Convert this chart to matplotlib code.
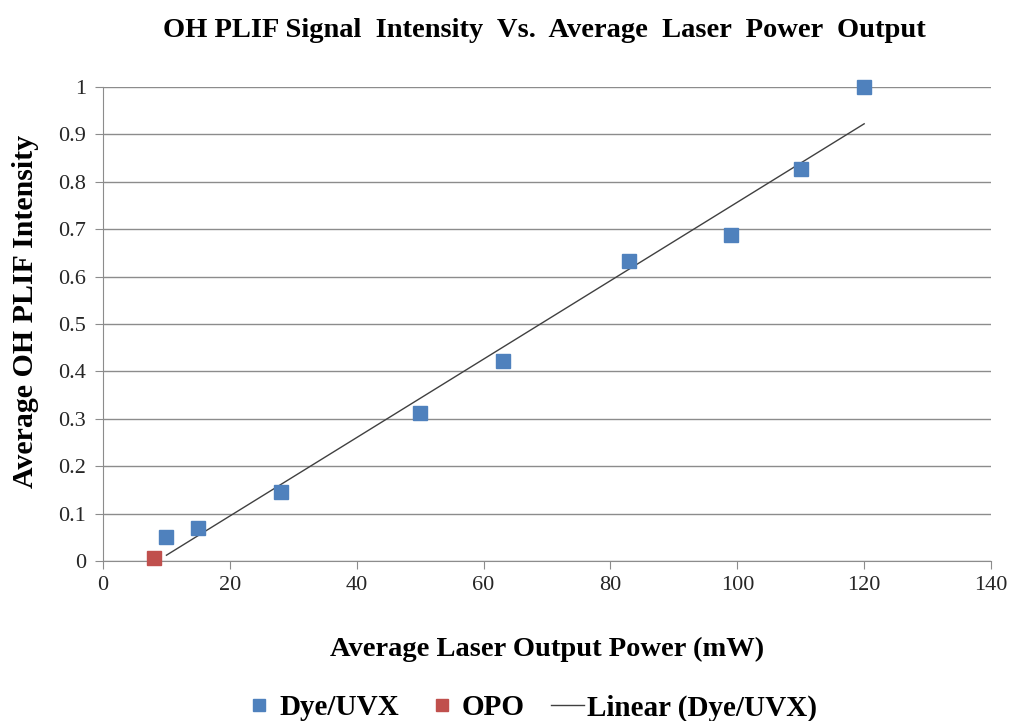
import matplotlib
matplotlib.use("Agg")
import matplotlib.pyplot as plt
import numpy as np

# data
dye_power = [10, 15, 28, 50, 63, 83, 99, 110, 120]
dye_signal = [0.051, 0.070, 0.146, 0.313, 0.421, 0.634, 0.687, 0.826, 1.0]
opo_power = [8]
opo_signal = [0.007]

x_ticks = [0, 20, 40, 60, 80, 100, 120, 140]
y_ticks = [0, 0.1, 0.2, 0.3, 0.4, 0.5, 0.6, 0.7, 0.8, 0.9, 1]

plt.rcParams['font.family'] = ['Liberation Serif', 'DejaVu Serif']

fig = plt.figure(figsize=(10.13, 7.21), dpi=100)
ax = fig.add_axes([0.1017, 0.2219, 0.8766, 0.6574])

# linear trendline through the Dye/UVX points
k, b = np.polyfit(dye_power, dye_signal, 1)
xs = np.array([min(dye_power), max(dye_power)])

ax.plot(dye_power, dye_signal, 's', color='#4F81BD', markersize=9.5, label='Dye/UVX', zorder=3, clip_on=False)
ax.plot(opo_power, opo_signal, 's', color='#C0504D', markersize=9.5, label='OPO', zorder=3, clip_on=False)
ax.plot(xs, k * xs + b, '-', color='#404040', linewidth=1, label='Linear (Dye/UVX)', zorder=2)

ax.set_xlim(0, 140)
ax.set_ylim(0, 1)
ax.set_xticks(x_ticks)
ax.set_yticks(y_ticks)
ax.set_yticklabels([f'{v:g}' for v in y_ticks])
ax.grid(axis='y', color='#8c8c8c', linewidth=1)
ax.set_axisbelow(True)

for s in ['top', 'right']:
    ax.spines[s].set_visible(False)
for s in ['left', 'bottom']:
    ax.spines[s].set_color('#8c8c8c')
ax.tick_params(axis='both', colors='#8c8c8c', labelcolor='#262626', labelsize=16, length=6, direction='out')
ax.tick_params(axis='x', pad=5)
ax.tick_params(axis='y', pad=6)

ax.set_xlabel('Average Laser Output Power (mW)', fontsize=20.5, fontweight='bold', labelpad=30)
ax.set_ylabel('Average OH PLIF Intensity', fontsize=21.5, fontweight='bold')
ax.yaxis.set_label_coords(-0.072, 0.527)
fig.suptitle('OH PLIF Signal  Intensity  Vs.  Average  Laser  Power  Output', x=0.537, y=0.975,
             fontsize=20.5, fontweight='bold')

leg = fig.legend(loc='center', bbox_to_anchor=(0.523, 0.018), ncol=3, frameon=False,
                 prop={'size': 21, 'weight': 'bold'}, handlelength=1.15, columnspacing=0.9,
                 handletextpad=0.1, markerscale=0.95)

fig.savefig('out.png', dpi=100)
